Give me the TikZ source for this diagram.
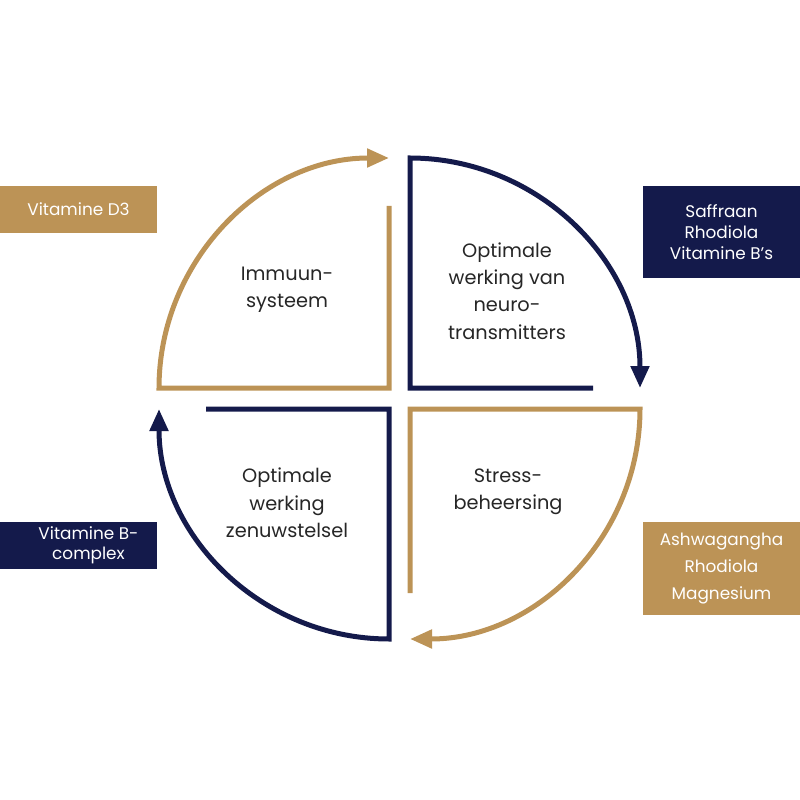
\documentclass[tikz,border=0pt]{standalone}
\usepackage{fontspec}
\setmainfont{Poppins}
\usepackage{tikz}
\usetikzlibrary{arrows.meta}
\definecolor{gold}{RGB}{188,147,86}
\definecolor{navy}{RGB}{20,26,75}

\begin{document}
\begin{tikzpicture}[
  loop/.style={line width=0.05cm, -{Triangle[width=0.18cm,length=0.22cm]}},
  part/.style={align=center, text=black!85, font=\fontsize{5.5}{7.8}\selectfont},
  tag/.style={align=center, text=white, inner sep=0pt, minimum width=1.57cm}
]
\useasboundingbox (0,0) rectangle (8,-8);
% the four quarters
\draw[loop, gold] (3.89,-2.06)--(3.89,-3.88)--(1.59,-3.88) arc[start angle=180, end angle=90, radius=2.30];
\draw[loop, navy] (5.93,-3.88)--(4.10,-3.88)--(4.10,-1.58) arc[start angle=90, end angle=0, radius=2.30];
\draw[loop, gold] (4.10,-5.93)--(4.10,-4.09)--(6.40,-4.09) arc[start angle=0, end angle=-90, radius=2.30];
\draw[loop, navy] (2.06,-4.09)--(3.89,-4.09)--(3.89,-6.39) arc[start angle=270, end angle=180, radius=2.30];
\node[part] (immuun) at (2.87,-2.90) {Immuun-\\systeem};
\node[part] (neuro) at (5.07,-2.91) {Optimale\\werking van\\neuro-\\transmitters};
\node[part] (stress) at (5.08,-4.92) {Stress-\\beheersing};
\node[part] (zenuw) at (2.87,-5.03) {Optimale\\werking\\zenuwstelsel};
% supplements
\node[tag, fill=gold, minimum height=0.47cm, font=\fontsize{4.8}{6}\selectfont] (vitd) at (0.785,-2.095) {Vitamine D3};
\node[tag, fill=navy, minimum height=0.92cm, font=\fontsize{4.8}{6}\selectfont] (saffraan) at (7.215,-2.32) {Saffraan\\Rhodiola\\Vitamine B's};
\node[tag, fill=navy, minimum height=0.47cm, font=\fontsize{4.8}{5.7}\selectfont] (bcomplex) at (0.785,-5.455) {\hspace{0.2cm}Vitamine B-\\\hspace{0.2cm}complex};
\node[tag, fill=gold, minimum height=0.93cm, font=\fontsize{4.8}{7.7}\selectfont] (ashwa) at (7.215,-5.685) {Ashwagangha\\Rhodiola\\Magnesium};
\end{tikzpicture}
\end{document}
